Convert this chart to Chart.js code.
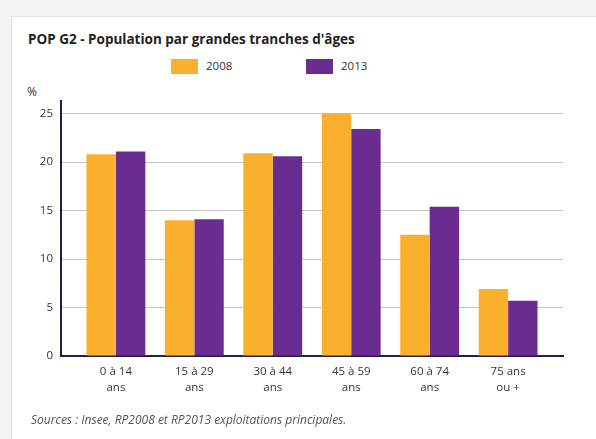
<!DOCTYPE html>
<html>
<head>
<meta charset="utf-8">
<script src="https://cdn.jsdelivr.net/npm/chart.js@4"></script>
<style>
  html, body { margin: 0; padding: 0; }
  body { width: 596px; height: 439px; background: #f3f3f3; position: relative; overflow: hidden; font-family: "Open Sans", sans-serif; color: #333; }
  .card { position: absolute; left: 11px; top: 16px; width: 600px; height: 440px; background: #fff; border: 1px solid #e3e3e3; }
  .title { position: absolute; left: 28px; top: 30px; font-size: 13.5px; font-weight: bold; color: #222; white-space: nowrap; }
  .leg { position: absolute; top: 58px; font-size: 11.5px; color: #333; }
  .leg i { display: inline-block; width: 27px; height: 15px; vertical-align: middle; margin-right: 8px; }
  .unit { position: absolute; left: 27px; top: 83px; font-size: 12px; color: #333; }
  .source { position: absolute; left: 31px; top: 411px; font-size: 12px; font-style: italic; color: #555; white-space: nowrap; }
  canvas { position: absolute; left: 0; top: 0; }
</style>
</head>
<body>
<div class="card"></div>
<div class="title">POP G2 - Population par grandes tranches d'âges</div>
<div class="leg" style="left:171px"><i style="background:#fbb02d"></i>2008</div>
<div class="leg" style="left:306px"><i style="background:#6a2c91"></i>2013</div>
<div class="unit">%</div>
<canvas id="chart" width="596" height="439"></canvas>
<div class="source">Sources : Insee, RP2008 et RP2013 exploitations principales.</div>
<script>
const categories = [
    ["0 à 14", "ans"],
    ["15 à 29", "ans"],
    ["30 à 44", "ans"],
    ["45 à 59", "ans"],
    ["60 à 74", "ans"],
    ["75 ans", "ou +"]
];
const values2008 = [20.8, 14.0, 20.9, 25.0, 12.5, 6.9];
const values2013 = [21.1, 14.1, 20.6, 23.4, 15.4, 5.7];
const yTicks = [0, 5, 10, 15, 20, 25];

const tickFont = { family: "Open Sans", size: 11.5 };

new Chart(document.getElementById("chart"), {
    type: 'bar',
    data: {
        datasets: [
            { label: '2008', data: values2008.map((v, i) => ({ x: i, y: v })), backgroundColor: '#fbb02d' },
            { label: '2013', data: values2013.map((v, i) => ({ x: i, y: v })), backgroundColor: '#6a2c91' }
        ]
    },
    options: {
        responsive: false,
        animation: false,
        events: [],
        layout: { padding: { left: 20, right: 33, top: 101, bottom: 40 } },
        datasets: { bar: { categoryPercentage: 0.75, barPercentage: 1 } },
        plugins: { legend: { display: false }, tooltip: { enabled: false } },
        scales: {
            x: {
                type: 'linear',
                offset: false,
                min: -0.7,
                max: 5.7,
                afterBuildTicks: s => { s.ticks = categories.map((c, i) => ({ value: i })); },
                afterFit: s => { s.height = 43; },
                grid: { display: false, drawTicks: false, offset: false },
                border: { color: '#1e1e55', width: 2 },
                ticks: {
                    padding: 8,
                    color: '#333',
                    font: { family: "Open Sans", size: 11.5, lineHeight: 1.35 },
                    maxRotation: 0,
                    autoSkip: false,
                    callback: v => categories[v]
                }
            },
            y: {
                min: 0,
                max: 26.3,
                afterBuildTicks: s => { s.ticks = yTicks.map(v => ({ value: v })); },
                afterFit: s => { s.width = 41; },
                grid: { color: '#c4c4c8', lineWidth: 1, drawTicks: false },
                border: { color: '#1e1e55', width: 2 },
                ticks: { padding: 8, color: '#333', font: tickFont }
            }
        }
    }
});
</script>
</body>
</html>
